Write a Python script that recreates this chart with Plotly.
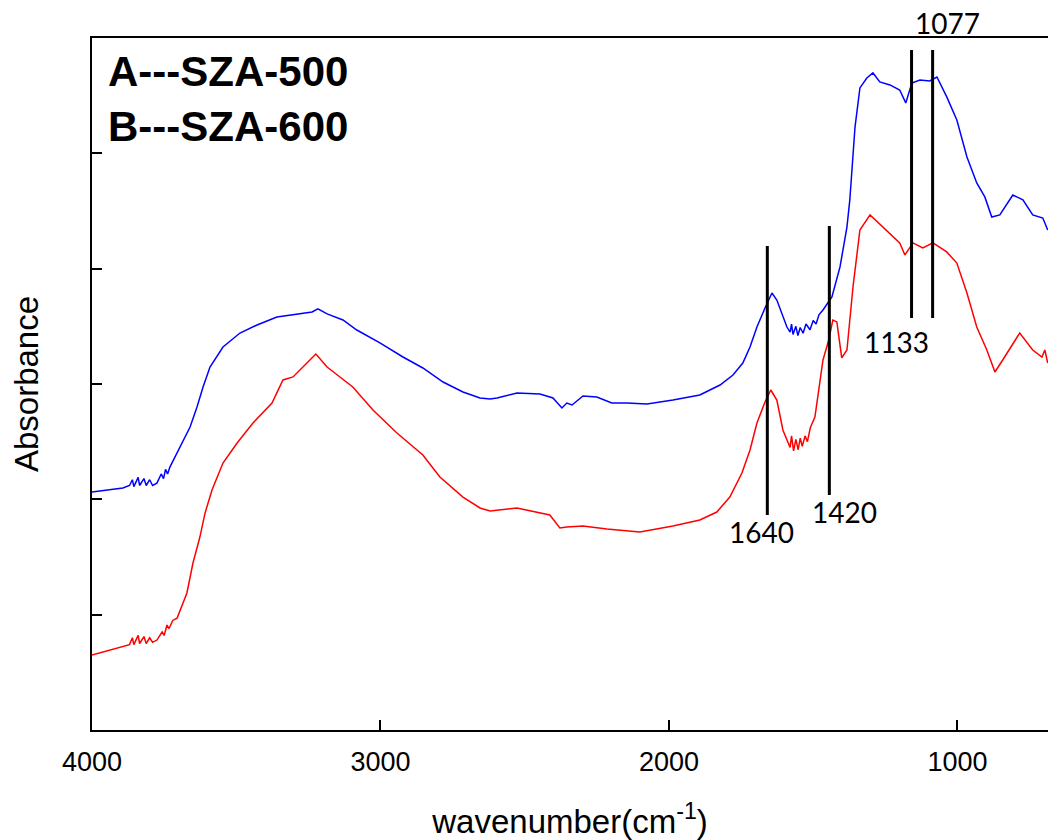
import plotly.graph_objects as go

# ---- data ----
wn_A = [4000, 3893, 3870, 3860, 3855, 3840, 3835, 3820, 3812, 3800, 3790, 3775, 3760, 3752,
        3745, 3738, 3730, 3695, 3660, 3636, 3615, 3591, 3546, 3487, 3428, 3359,
        3290, 3237, 3217, 3185, 3130, 3082, 3002, 2922, 2853, 2783, 2714, 2655, 2620, 2596,
        2527, 2447, 2402, 2371, 2354, 2336, 2298, 2250, 2198, 2146, 2076, 1986, 1893, 1823,
        1778, 1744, 1719, 1695, 1667, 1643, 1626, 1605, 1591, 1580, 1575, 1570, 1560, 1553,
        1545, 1535, 1525, 1511, 1500, 1490, 1480, 1466, 1435, 1407,
        1383, 1373, 1355, 1338, 1314, 1293, 1269, 1234, 1200, 1179, 1158, 1130, 1096, 1071,
        1037, 1002, 967, 933, 905, 881, 853, 808, 773, 739, 704, 687]
abs_A = [2.064, 2.098, 2.120, 2.170, 2.110, 2.190, 2.120, 2.180, 2.120, 2.170, 2.120, 2.140,
         2.220, 2.180, 2.260, 2.220, 2.280, 2.454, 2.627, 2.801, 2.974, 3.147, 3.321, 3.442,
         3.512, 3.581, 3.608, 3.625, 3.652, 3.608, 3.555, 3.468, 3.356, 3.234, 3.139, 3.017,
         2.931, 2.879, 2.870, 2.879, 2.922, 2.913, 2.879, 2.792, 2.835, 2.818, 2.896, 2.887,
         2.835, 2.835, 2.827, 2.861, 2.905, 2.991, 3.078, 3.182, 3.321, 3.494, 3.659, 3.789,
         3.728, 3.581, 3.494, 3.450, 3.520, 3.430, 3.500, 3.420, 3.490, 3.440, 3.520, 3.470,
         3.550, 3.520, 3.600, 3.642, 3.754, 4.015, 4.361, 4.596, 5.228, 5.567,
         5.653, 5.697, 5.619, 5.593, 5.549, 5.437, 5.610, 5.636, 5.627, 5.662, 5.489, 5.289,
         4.968, 4.743, 4.622, 4.448, 4.466, 4.639, 4.596, 4.466, 4.439, 4.335]

wn_B = [4000, 3893, 3870, 3860, 3855, 3840, 3835, 3820, 3812, 3800, 3790, 3775, 3757, 3750,
        3740, 3733, 3720, 3705, 3671, 3650, 3626, 3608, 3584, 3546, 3497, 3442, 3376,
        3338, 3303, 3255, 3224, 3185, 3151, 3096, 3026, 2943, 2853, 2794, 2714, 2655, 2620,
        2527, 2413, 2378, 2354, 2298, 2215, 2101, 1986, 1893, 1834, 1789, 1747, 1719, 1695,
        1667, 1647, 1626, 1605, 1591, 1580, 1575, 1568, 1560, 1552, 1545, 1538, 1528, 1520,
        1510, 1494, 1466, 1446, 1432, 1418, 1401, 1383,
        1362, 1338, 1303, 1258, 1200, 1182, 1154, 1120, 1085, 1037, 1002, 967, 933, 898,
        870, 843, 784, 739, 707, 697, 687]
abs_B = [0.650, 0.720, 0.740, 0.800, 0.740, 0.820, 0.750, 0.810, 0.750, 0.800, 0.760, 0.780,
         0.850, 0.820, 0.910, 0.880, 0.950, 0.970, 1.188, 1.448, 1.673, 1.882, 2.081, 2.315,
         2.488, 2.662, 2.835, 3.035, 3.061, 3.182, 3.260, 3.147, 3.078, 2.974, 2.775, 2.575,
         2.384, 2.194, 2.020, 1.925, 1.899, 1.925, 1.864, 1.752, 1.760, 1.769, 1.743, 1.717,
         1.769, 1.821, 1.890, 2.020, 2.228, 2.428, 2.662, 2.844, 2.948, 2.861, 2.601, 2.514,
         2.450, 2.550, 2.420, 2.520, 2.430, 2.530, 2.460, 2.550, 2.500, 2.620, 2.714, 3.208,
         3.382, 3.555, 3.538, 3.226, 3.295, 3.841, 4.335, 4.466, 4.361,
         4.223, 4.119, 4.223, 4.179, 4.223, 4.145, 4.049, 3.789, 3.494, 3.295, 3.104, 3.208,
         3.442, 3.295, 3.234, 3.295, 3.182]

# peak marker lines: label, drawn position (cm-1), line bottom, line top (absorbance units)
peak_labels = ["1640", "1420", "1133", "1077"]
peak_pos = [1659, 1444, 1159, 1086]
peak_y0 = [1.864, 2.038, 3.572, 3.572]
peak_y1 = [4.197, 4.370, 5.896, 5.896]
# label anchor positions (cm-1, absorbance)
label_x = [1678, 1390, 1210, 1033]
label_y = [1.717, 1.890, 3.364, 6.13]

x_ticks = [4000, 3000, 2000, 1000]
y_ticks = [1, 2, 3, 4, 5]
y_range = [0, 6]

fig = go.Figure()
fig.add_trace(go.Scatter(x=wn_A, y=abs_A, mode="lines", name="A---SZA-500",
                         line=dict(color="#0000FF", width=1.5)))
fig.add_trace(go.Scatter(x=wn_B, y=abs_B, mode="lines", name="B---SZA-600",
                         line=dict(color="#FF0000", width=1.5)))

for p, y0, y1 in zip(peak_pos, peak_y0, peak_y1):
    fig.add_shape(type="line", xref="x", yref="y", x0=p, x1=p, y0=y0, y1=y1,
                  line=dict(color="black", width=3))

span = y_range[1] - y_range[0]
for t, lx, ly in zip(peak_labels, label_x, label_y):
    fig.add_annotation(x=lx, y=(ly - y_range[0]) / span, xref="x", yref="paper", text=t,
                       showarrow=False,
                       font=dict(family="Lato", size=28, color="black"),
                       xanchor="center", yanchor="middle")

fig.add_annotation(x=0.0146, y=0.951, xref="paper", yref="paper", text="<b>A---SZA-500</b>",
                   showarrow=False, xanchor="left", yanchor="middle",
                   font=dict(family="Liberation Sans", size=42, color="black"))
fig.add_annotation(x=0.0146, y=0.872, xref="paper", yref="paper", text="<b>B---SZA-600</b>",
                   showarrow=False, xanchor="left", yanchor="middle",
                   font=dict(family="Liberation Sans", size=42, color="black"))

fig.update_layout(
    width=1048, height=840,
    margin=dict(l=92, r=0, t=38, b=110),
    paper_bgcolor="white", plot_bgcolor="white",
    showlegend=False,
    font=dict(family="Liberation Sans", color="black"),
)
fig.update_xaxes(range=[4000, 686], tickvals=x_ticks, ticks="inside", ticklen=10,
                 tickwidth=1.5, tickcolor="black", showline=True, linewidth=2,
                 linecolor="black", mirror=True, showgrid=False, zeroline=False,
                 tickfont=dict(size=27, family="Liberation Sans"), ticklabelstandoff=7,
                 title=dict(text="wavenumber(cm<sup>-1</sup>)", standoff=36,
                            font=dict(size=33, family="Liberation Sans")))
fig.update_yaxes(range=y_range, tickvals=y_ticks, ticks="inside", ticklen=10,
                 tickwidth=1.5, tickcolor="black", showticklabels=False,
                 showline=True, linewidth=2, linecolor="black", showgrid=False,
                 zeroline=False,
                 title=dict(text="Absorbance", standoff=41,
                            font=dict(size=33, family="Liberation Sans")))

# remove the page's default body margin so the 1048x840 figure fills the window
fig.write_html("out.html",
               config={"displayModeBar": False},
               post_script="document.body.style.margin='0';document.body.style.overflow='hidden';")
